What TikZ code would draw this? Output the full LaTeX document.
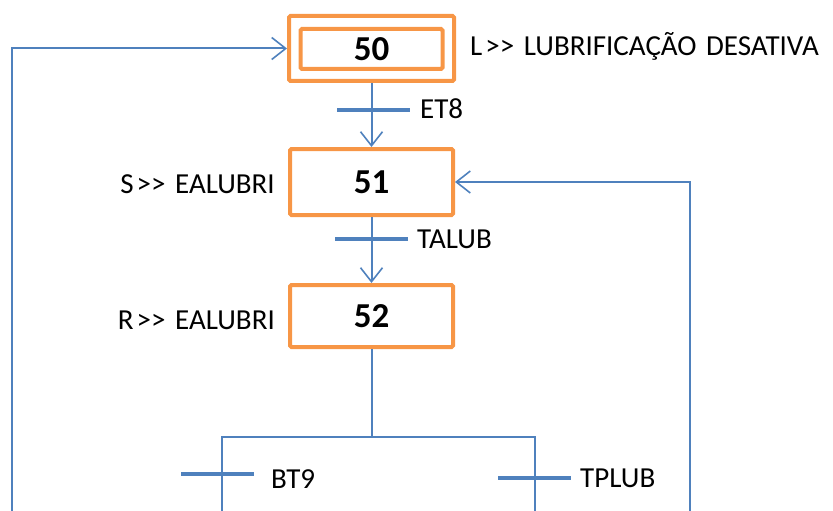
\documentclass[tikz,border=0pt]{standalone}
\usepackage{fontspec}
\setmainfont{Carlito}[Ligatures=TeXOff]
\usetikzlibrary{arrows.meta}
\definecolor{flowblue}{HTML}{4F81BD}
\definecolor{steporange}{HTML}{F79646}
\begin{document}
\begin{tikzpicture}[x=1pt,y=-1pt,
  stepbox/.style={draw=steporange, line width=4pt, rounded corners=1.5pt,
    minimum width=163pt, inner sep=0pt,
    font=\fontsize{35}{35}\selectfont\bfseries},
  link/.style={draw=flowblue, line width=2pt},
  arr/.style={link, -{Straight Barb[length=14pt,width=22pt,line width=1.6pt]}},
  trbar/.style={fill=flowblue, minimum width=73pt, minimum height=4.5pt,
    inner sep=0pt, outer sep=0pt},
  lbl/.style={font=\fontsize{29}{29}\selectfont, inner sep=0pt}]
\useasboundingbox (0,0) rectangle (833,511);

% GRAFCET steps
\node[stepbox, minimum width=142pt, minimum height=40pt] (s50) at (371.5,49) {50};
\node[draw=steporange, line width=4pt, rounded corners=1.5pt,
  minimum width=165pt, minimum height=65pt, inner sep=0pt] (s50o) at (371.5,48.5) {};
\node[stepbox, minimum height=66pt] (s51) at (371.5,182) {51};
\node[stepbox, minimum height=62pt] (s52) at (371.5,316) {52};

% actions
\node[lbl, anchor=base west] (a50) at (470,56)
  {L\kern3pt>>\kern3pt{} LUBRIFICAÇÃO\kern3pt{} DESATIVA};
\node[lbl, anchor=base east] (a51) at (275,193) {S\kern3pt>>\kern3pt{} EALUBRI};
\node[lbl, anchor=base east] (a52) at (275,329) {R\kern3pt>>\kern3pt{} EALUBRI};

% links between steps
\draw[arr] (s50o.south) -- (s51.north);
\draw[arr] (s51.south) -- (s52.north);

% divergence after step 52
\coordinate (bj) at (371.5,437);
\coordinate (bl) at (222,511);
\coordinate (br) at (535,511);
\draw[link] (s52.south) -- (bj);
\draw[link] (bl) |- (bj) -| (br);

% return loops
\coordinate (lb) at (12,511);
\coordinate (rb) at (690,511);
\draw[arr] (lb) |- (s50o.west);
\draw[arr] (rb) |- (s51.east);

% transitions
\node[trbar] (tet8) at (373,110) {};
\node[lbl, anchor=base west] (let8) at (420,118) {ET8};
\node[trbar] (ttalub) at (371.5,239) {};
\node[lbl, anchor=base west] (ltalub) at (417,248) {TALUB};
\node[trbar] (tbt9) at (217.5,474) {};
\node[lbl, anchor=base west] (lbt9) at (271,488) {BT9};
\node[trbar] (ttplub) at (534.5,478) {};
\node[lbl, anchor=base west] (ltplub) at (580,487) {TPLUB};
\end{tikzpicture}
\end{document}
